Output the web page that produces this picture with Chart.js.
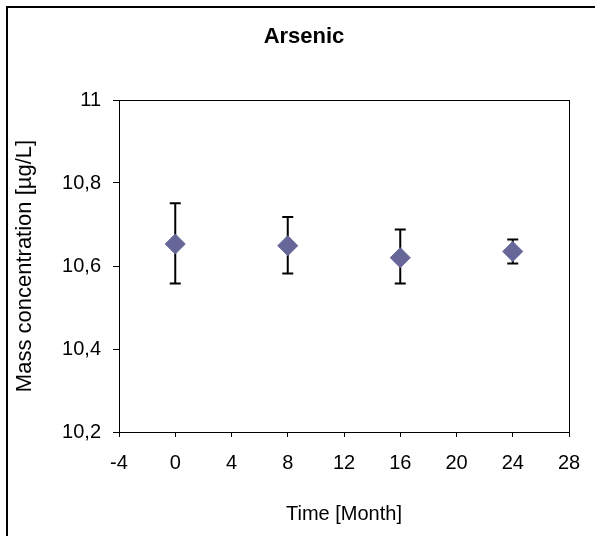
<!DOCTYPE html>
<html>
<head>
<meta charset="utf-8">
<script src="https://cdn.jsdelivr.net/npm/chart.js@4.4.1/dist/chart.umd.min.js"></script>
<style>
  html, body { margin: 0; padding: 0; background: #fff; }
  canvas { display: block; }
</style>
</head>
<body>
<canvas id="arsenicChart" width="595" height="536"></canvas>
<script>
// Stability data
const months = [0, 8, 16, 24];
const arsenic = [10.653, 10.649, 10.620, 10.635];
const errLow = [10.558, 10.582, 10.558, 10.606];
const errHigh = [10.751, 10.718, 10.688, 10.664];

const yTicksMin = 10.2, yTicksMax = 11, yStep = 0.2;
const xTicksMin = -4, xTicksMax = 28, xStep = 4;

const FONT = "Arial, 'Liberation Sans', sans-serif";

// white page with the outer frame, and a frame round the plot area
const framePlugin = {
    id: 'frames',
    beforeDraw(chart) {
        const ctx = chart.ctx;
        ctx.save();
        ctx.fillStyle = '#fff';
        ctx.fillRect(0, 0, chart.width, chart.height);
        ctx.strokeStyle = '#000';
        ctx.lineWidth = 2;
        ctx.strokeRect(7, 7, 800, 800);
        ctx.restore();
    },
    afterDraw(chart) {
        const a = chart.chartArea;
        const ctx = chart.ctx;
        ctx.save();
        ctx.strokeStyle = '#000';
        ctx.lineWidth = 1;
        ctx.strokeRect(Math.round(a.left) + 0.5, Math.round(a.top) + 0.5,
            Math.round(a.right - a.left), Math.round(a.bottom - a.top));
        ctx.restore();
    }
};

// error bars, drawn under the diamonds
const errorBarPlugin = {
    id: 'errorBars',
    beforeDatasetsDraw(chart) {
        const ctx = chart.ctx;
        const xs = chart.scales.x, ys = chart.scales.y;
        ctx.save();
        ctx.strokeStyle = '#000';
        ctx.lineWidth = 2;
        months.forEach((m, i) => {
            const x = xs.getPixelForValue(m);
            const top = ys.getPixelForValue(errHigh[i]);
            const bot = ys.getPixelForValue(errLow[i]);
            ctx.beginPath();
            ctx.moveTo(x, top);
            ctx.lineTo(x, bot);
            ctx.moveTo(x - 5.5, top);
            ctx.lineTo(x + 5.5, top);
            ctx.moveTo(x - 5.5, bot);
            ctx.lineTo(x + 5.5, bot);
            ctx.stroke();
        });
        ctx.restore();
    }
};

const fmtComma = v => String(Math.round(v * 10) / 10).replace('.', ',');

const ctx = document.getElementById('arsenicChart').getContext('2d');
const chart = new Chart(ctx, {
    type: 'scatter',
    data: {
        datasets: [{
            label: 'Arsenic',
            data: months.map((m, i) => ({ x: m, y: arsenic[i] })),
            pointStyle: 'rectRot',
            pointRadius: 10,
            pointHoverRadius: 10,
            backgroundColor: '#666699',
            borderColor: '#666699',
            borderWidth: 1
        }]
    },
    options: {
        responsive: false,
        animation: false,
        layout: { padding: { left: 39, right: 26, top: 0, bottom: 0 } },
        plugins: {
            legend: { display: false },
            tooltip: { enabled: false },
            title: {
                display: true,
                text: 'Arsenic',
                color: '#000',
                font: { family: FONT, size: 22, weight: 'bold', lineHeight: 1.2 },
                padding: { top: 23.5, bottom: 50.1 }
            }
        },
        scales: {
            x: {
                type: 'linear',
                min: xTicksMin,
                max: xTicksMax,
                afterFit: s => { s.height = 104; },
                ticks: {
                    stepSize: xStep,
                    color: '#000',
                    padding: 14.6,
                    font: { family: FONT, size: 20 }
                },
                grid: { drawOnChartArea: false, drawTicks: true, tickLength: 5, color: '#000' },
                border: { display: true, color: '#000', width: 1 },
                title: {
                    display: true,
                    text: 'Time [Month]',
                    color: '#000',
                    font: { family: FONT, size: 20, lineHeight: 1.2 },
                    padding: { top: 0, bottom: 10 }
                }
            },
            y: {
                type: 'linear',
                min: yTicksMin,
                max: yTicksMax,
                afterFit: s => { s.width = 80; },
                ticks: {
                    stepSize: yStep,
                    color: '#000',
                    padding: 12,
                    font: { family: FONT, size: 20 },
                    callback: v => fmtComma(v)
                },
                grid: { drawOnChartArea: false, drawTicks: true, tickLength: 6, color: '#000' },
                border: { display: true, color: '#000', width: 1 },
                title: {
                    display: true,
                    text: 'Mass concentration [µg/L]',
                    color: '#000',
                    font: { family: FONT, size: 22, lineHeight: 1.2 },
                    padding: { top: -27.2, bottom: 0 }
                }
            }
        }
    },
    plugins: [framePlugin, errorBarPlugin]
});
</script>
</body>
</html>
